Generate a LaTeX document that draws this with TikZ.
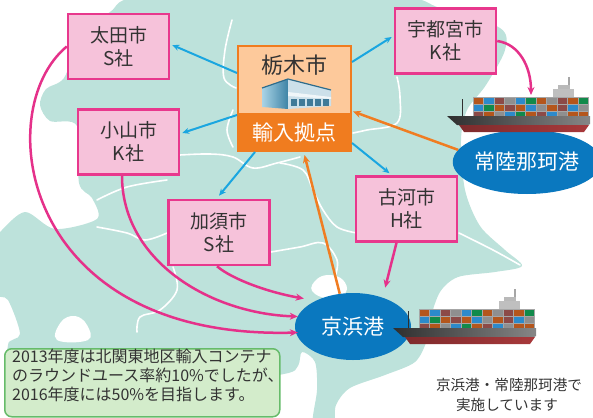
\documentclass[tikz,border=0pt]{standalone}
\usepackage{fontspec}
\setmainfont{Noto Sans CJK JP}
\usetikzlibrary{arrows.meta,shapes.geometric}

\definecolor{mapteal}{HTML}{BDE2DB}
\definecolor{boxpink}{HTML}{F6C2DA}
\definecolor{edgepink}{HTML}{E8388D}
\definecolor{arrowpink}{HTML}{E5318A}
\definecolor{arrowblue}{HTML}{1AA6E0}
\definecolor{arroworange}{HTML}{F07D22}
\definecolor{peach}{HTML}{FDC99B}
\definecolor{bandorange}{HTML}{F07C1F}
\definecolor{portblue}{HTML}{0A78BF}
\definecolor{notegreen}{HTML}{D3ECCB}
\definecolor{noteedge}{HTML}{66BB6A}
\definecolor{inkgray}{HTML}{333333}
\definecolor{cbr}{HTML}{B4561C}
\definecolor{cbl}{HTML}{2C8ACB}
\definecolor{crd}{HTML}{8C4A47}
\definecolor{cgy}{HTML}{8F8F8F}
\definecolor{cgn}{HTML}{118A4B}
\definecolor{hulldark}{HTML}{2F2F2F}
\definecolor{hulllight}{HTML}{868686}
\definecolor{hullred}{HTML}{A8393B}
\definecolor{wlight}{HTML}{A9D3E6}
\definecolor{wdark}{HTML}{3E84A6}
\definecolor{wface}{HTML}{CCE0EA}
\definecolor{wroof}{HTML}{2E6C8C}
\definecolor{wdoor}{HTML}{3F7A98}

% container ship: #1,#2 = top left corner of the container stack
\newcommand{\containership}[2]{%
  \begin{scope}[shift={(#1,#2)}]
    \draw[hulldark, line width=1pt] (-11,2) -- (-11,19);
    \draw[gray!70, line width=1.3pt] (96,-20) -- (96,-10);
    \fill[gray!55] (85,-12) rectangle (97,-7);
    \fill[gray!50] (80,-8) rectangle (101,0);
    \foreach \cc [count=\i from 0] in {cbr,cbl,crd,cgy,cbl,cgn,cbr,cgy,crd,cbr,cgn,
                                        cbl,cgn,cbr,crd,cbr,cbl,cgy,cbr,crd,cbl,cgy,
                                        crd,cbr,cgy,cbl,cgn,cbr,crd,cbl,cgy,cbr,cbr} {
      \pgfmathtruncatemacro\col{mod(\i,11)}
      \pgfmathtruncatemacro\row{div(\i,11)}
      \path[fill=\cc, draw=black!35, line width=0.4pt] (\col*10.5,\row*7) rectangle ++(10.5,7);
    }
    \shade[left color=hulldark, right color=hulllight]
      (-26,19) -- (117,19) -- (117,27) -- (115,28) -- (-16,28) -- cycle;
    \shade[left color=hullred!75!black, right color=hullred]
      (-14,28) -- (116,28) -- (111,35) -- (-9,35) -- cycle;
  \end{scope}}

\tikzset{
  company/.style={draw=edgepink, line width=2.5pt, fill=boxpink, text=inkgray,
    minimum width=101pt, minimum height=65pt, align=center, inner sep=0pt,
    font=\fontsize{19}{23}\selectfont},
  harbour/.style={ellipse, fill=portblue, text=white, inner sep=0pt,
    font=\fontsize{21}{25}\selectfont},
  hubout/.style={arrowblue, line width=2pt, -{Stealth[length=7pt,width=6pt]}},
  hubin/.style={arroworange, line width=2.5pt, -{Stealth[length=8pt,width=7pt]}},
  toport/.style={arrowpink, line width=2.5pt, -{Stealth[length=8pt,width=7pt]}},
  mapline/.style={white, line width=1.6pt, line cap=round, line join=round},
  notetext/.style={anchor=base west, inner sep=0pt, text=inkgray,
    font=\fontsize{16}{19}\selectfont},
  sidetext/.style={anchor=base, inner sep=0pt, text=inkgray,
    font=\fontsize{14.6}{17}\selectfont},
}

\begin{document}
\begin{tikzpicture}[x=1pt,y=-1pt]
\useasboundingbox (0,0) rectangle (593,417);
\clip (0,0) rectangle (593,417);

% ---- land area ----
\fill[mapteal] plot[smooth cycle, tension=0.5] coordinates {
  (0,232) (25,212) (55,229) (97,219) (92,198) (79,183) (77,126) (50,121)
  (40,105) (46,89) (64,78) (80,40) (110,12) (150,-4) (390,-4) (440,8)
  (500,28) (505,50) (486,85) (467,110) (461,140) (465,190) (480,226)
  (505,250) (522,266) (495,272) (458,277) (440,292) (430,320) (427,340)
  (415,362) (385,375) (350,388) (336,405) (333,425) (313,425) (317,390)
  (315,362) (302,352) (298,366) (284,374) (200,385) (20,385) (8,345)
  (20,334) (8,300) (-5,292) (-5,240)};
% lakes and bay
\fill[white] plot[smooth cycle, tension=0.7] coordinates {
  (57,340) (61,322) (75,316) (87,325) (88,340)};
\fill[white] plot[smooth cycle, tension=0.7] coordinates {
  (312,291) (317,279) (330,275) (343,280) (346,292) (330,299)};

% ---- municipal boundaries ----
\draw[mapline] plot[smooth, tension=0.6] coordinates {(232,20) (225,50) (224,78) (236,88)};
\draw[mapline] plot[smooth, tension=0.6] coordinates {(180,155) (210,154) (233,157) (253,168) (277,163) (300,157)};
\draw[mapline] plot[smooth, tension=0.6] coordinates {(233,110) (227,130) (233,147)};
\draw[mapline] plot[smooth, tension=0.6] coordinates {(97,200) (127,187) (167,180)};
\draw[mapline] plot[smooth, tension=0.6] coordinates {(97,227) (127,233) (145,240) (167,233)};
\draw[mapline] plot[smooth, tension=0.6] coordinates {(173,267) (177,290) (160,310) (140,317) (137,332)};
\draw[mapline] plot[smooth, tension=0.6] coordinates {(271,252) (300,247) (323,243) (337,260) (335,277)};
\draw[mapline] plot[smooth, tension=0.6] coordinates {(280,163) (303,170) (313,190) (323,210) (337,227) (357,233)};
\draw[mapline] plot[smooth, tension=0.6] coordinates {(459,233) (493,250) (520,265)};
\draw[mapline] plot[smooth, tension=0.6] coordinates {(397,77) (400,97) (397,123) (367,130) (353,133)};

% ---- import hub ----
\node[rectangle, draw=bandorange, line width=2pt, fill=peach, minimum width=113pt,
      minimum height=105pt, inner sep=0pt] (tochigi) at (294.5,98.5) {};
\node[fill=bandorange, minimum width=113pt, minimum height=39pt, inner sep=0pt,
      anchor=south, text=white, font=\fontsize{21}{25}\selectfont]
      (kyoten) at (tochigi.south) {輸入拠点};
\node[inner sep=0pt, text=inkgray, font=\fontsize{22}{26}\selectfont]
      (tochiginame) at (294.5,65) {栃木市};
% warehouse
\shade[left color=wlight, right color=wdark] (262,88) -- (288,79) -- (288,109) -- (262,107) -- cycle;
\fill[wface] (288,79) -- (331,90) -- (331,106) -- (288,109) -- cycle;
\fill[white!70!wface] (288,92) -- (331,97) -- (331,99) -- (288,96) -- cycle;
\draw[wroof, line width=1.2pt, line join=round] (262,88) -- (288,79) -- (331,90);
\foreach \d in {0,...,4} \fill[wdoor] (291+\d*8,99) rectangle ++(6,7);

% ---- companies ----
\node[company] (ota)   at (118.5,46.5) {太田市\\S社};
\node[company] (oyama) at (128.5,142)  {小山市\\K社};
\node[company] (kazo)  at (219,232.5)  {加須市\\S社};
\node[company] (koga)  at (406.5,209)  {古河市\\H社};
\node[company] (utsu)  at (445.5,41)   {宇都宮市\\K社};

% ---- ports and ships ----
\node[harbour, minimum width=122pt, minimum height=64pt] (hitachi) at (527,162) {常陸那珂港};
\node[harbour, minimum width=116pt, minimum height=67pt] (keihin) at (353,326.5) {京浜港};
\containership{473}{97}
\containership{419}{309}
\coordinate (ship1top) at (531,95);

% ---- note ----
\node[draw=noteedge, line width=1.5pt, fill=notegreen, rounded corners=7pt,
      minimum width=275pt, minimum height=68pt, anchor=north west, inner sep=0pt]
      (note) at (4,348) {};
\node[notetext] (noteA) at (12,362) {2013年度は北関東地区輸入コンテナ};
\node[notetext] (noteB) at (12,381) {のラウンドユース率約10\%でしたが、};
\node[notetext] (noteC) at (12,400) {2016年度には50\%を目指します。};

\node[sidetext] (sideA) at (509,390.5) {京浜港・常陸那珂港で};
\node[sidetext] (sideB) at (507,410.5) {実施しています};

% ---- flows from the hub ----
\draw[hubout] ([yshift=-28pt]tochigi.north west) -- ([xshift=2pt,yshift=1.5pt]ota.east);
\draw[hubout] ([yshift=-70pt]tochigi.north west) -- ([xshift=2pt,yshift=9pt]oyama.east);
\draw[hubout] ([xshift=18pt]tochigi.south west) -- ([yshift=3pt]kazo.north);
\draw[hubout] ([yshift=-17pt]tochigi.north east) -- ([xshift=-2pt,yshift=4pt]utsu.west);
\draw[hubout] ([yshift=9pt]tochigi.south east) -- ([xshift=-17pt,yshift=2pt]koga.north);

% ---- imports into the hub ----
\draw[hubin] (hitachi.170) -- ([xshift=1pt,yshift=-13pt]tochigi.east);
\draw[hubin] (keihin.112) -- ([xshift=10pt,yshift=-3pt]tochigi.south);

% ---- exports to the ports ----
\draw[toport] (utsu.east) .. controls +(22,3) and +(0,-28) .. (ship1top);
\draw[toport] ([xshift=-10pt]koga.south) -- ([xshift=-9pt,yshift=15pt]keihin.north east);
\draw[toport] ([xshift=-2pt]kazo.south) .. controls +(15,13) and +(-35,-6) .. ([xshift=9pt,yshift=28pt]keihin.west);
\draw[toport] ([xshift=-6.5pt]oyama.south) .. controls +(0,85) and +(-88,-3) .. ([xshift=3pt,yshift=10pt]keihin.west);
\draw[toport] (ota.west) .. controls (-10,110) and (20,340) .. ([xshift=3pt,yshift=-6pt]keihin.west);

\end{tikzpicture}
\end{document}
